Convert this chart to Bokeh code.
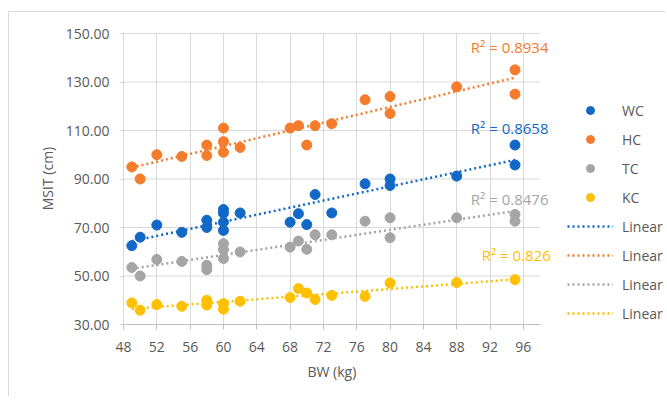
import numpy as np
from bokeh.plotting import figure
from bokeh.models import (Legend, LegendItem, Label, FixedTicker, NumeralTickFormatter,
                          Range1d, Title)
from bokeh.embed import file_html
from bokeh.resources import INLINE

# ---- data ----
wc_x = [49, 50, 52, 55, 58, 58, 60, 60, 60, 60, 62, 68, 69, 70, 71, 73, 77, 80, 80, 88, 95, 95]
wc_y = [62.5, 66, 71, 68, 73, 70, 77.4, 75.9, 72.2, 68.8, 76, 72.2, 75.7, 71.2, 83.6, 76, 88, 90, 87.3, 91.2, 104, 95.8]

hc_x = [49, 50, 52, 55, 58, 58, 60, 60, 60, 62, 68, 69, 70, 71, 73, 77, 80, 80, 88, 95, 95]
hc_y = [95, 90, 100, 99.3, 104, 99.7, 111, 105.4, 101, 103, 111, 112, 104, 112, 112.8, 122.7, 124, 117, 128, 135, 125]

tc_x = [49, 50, 52, 55, 58, 58, 60, 60, 60, 62, 68, 69, 70, 71, 73, 77, 80, 80, 88, 95, 95]
tc_y = [53.5, 50, 56.8, 56, 54.4, 52.6, 63.3, 60.9, 57.2, 59.9, 61.9, 64.4, 61, 67, 67, 72.6, 74, 65.8, 74, 75.4, 72.6]

kc_x = [49, 50, 52, 55, 58, 58, 60, 60, 62, 68, 69, 70, 71, 73, 77, 80, 88, 95]
kc_y = [38.9, 35.9, 38.2, 37.5, 40, 38, 38.6, 36.3, 39.6, 41.1, 44.8, 43, 40.3, 42, 41.6, 47.1, 47.3, 48.5]

series_names = ["WC", "HC", "TC", "KC"]
r2_texts = ["R\u00b2 = 0.8658", "R\u00b2 = 0.8934", "R\u00b2 = 0.8476", "R\u00b2 = 0.826"]
x_ticks = [48, 52, 56, 60, 64, 68, 72, 76, 80, 84, 88, 92, 96]
y_ticks = [30, 50, 70, 90, 110, 130, 150]
x_min, x_max = 48, 98
y_min, y_max = 30, 150

colors = ["#1268c6", "#f47c2c", "#a5a5a5", "#ffc000"]
FONT = "Open Sans"
TXT = "#595959"
GRID = "#d9d9d9"

# frame spans to the right edge of the canvas so legend / labels are not clipped;
# the x axis and horizontal grid lines are bounded to the data domain [48, 98]
W, H = 656, 384
left_b, top_b = 114, 20
frame_w, frame_h = W - left_b, 292
bottom_b = H - top_b - frame_h
px_per_kg = 8.33
px_per_cm = 2.425
x_end = x_min + frame_w / px_per_kg
y_end = y_max + 1 / px_per_cm

p = figure(width=W, height=H, frame_width=frame_w, frame_height=frame_h,
           min_border_left=left_b, min_border_right=0, min_border_top=top_b,
           min_border_bottom=bottom_b,
           output_backend="svg", toolbar_location=None,
           x_range=Range1d(x_min, x_end), y_range=Range1d(y_min, y_end))
p.styles = {"border-top": "1px solid #d9d9d9", "border-left": "1px solid #d9d9d9",
            "margin-top": "11px", "margin-left": "8px"}
p.outline_line_color = None
p.background_fill_color = "white"
p.border_fill_color = "white"

p.xaxis.ticker = FixedTicker(ticks=x_ticks)
p.yaxis.ticker = FixedTicker(ticks=y_ticks)
p.yaxis.formatter = NumeralTickFormatter(format="0.00")
p.xaxis.bounds = (x_min, x_max)
p.xgrid.grid_line_color = GRID
p.ygrid.grid_line_color = None

# horizontal grid lines limited to the x domain
p.segment(x0=[x_min] * len(y_ticks), x1=[x_max] * len(y_ticks), y0=y_ticks, y1=y_ticks,
          line_color=GRID, line_width=1)

for ax in (p.xaxis[0], p.yaxis[0]):
    ax.major_label_text_font = FONT
    ax.major_label_text_font_size = "14px"
    ax.major_label_text_color = TXT
    ax.axis_label_text_font = FONT
    ax.axis_label_text_font_size = "14px"
    ax.axis_label_text_color = TXT
    ax.axis_label_text_font_style = "normal"
    ax.minor_tick_line_color = None
    ax.major_tick_in = 0

p.xaxis.axis_line_color = "#bfbfbf"
p.xaxis.major_tick_line_color = "#bfbfbf"
p.xaxis.major_tick_out = 5
p.xaxis.major_label_standoff = 12

p.yaxis.axis_label = "MSIT (cm)"
p.yaxis.axis_line_color = GRID
p.yaxis.major_tick_line_color = GRID
p.yaxis.major_tick_out = 4
p.yaxis.major_label_standoff = 10
p.yaxis.axis_label_standoff = 6

# x-axis title, centred on the data domain of the axis
p.add_layout(Title(text="BW (kg)", align="left", offset=184, standoff=11,
                   text_font=FONT, text_font_size="14px", text_color=TXT,
                   text_font_style="normal"), "below")

data = [(wc_x, wc_y), (hc_x, hc_y), (tc_x, tc_y), (kc_x, kc_y)]
scat_r = []
for (xs, ys), c in zip(data, colors):
    r = p.scatter(xs, ys, size=10, color=c, line_color=c)
    scat_r.append(r)
line_r = []
for (xs, ys), c in zip(data, colors):
    xa = np.array(xs, dtype=float)
    ya = np.array(ys, dtype=float)
    m, b = np.polyfit(xa, ya, 1)
    lx = [xa.min(), xa.max()]
    ly = [m * xa.min() + b, m * xa.max() + b]
    lr = p.line(lx, ly, line_color=c, line_width=2.5, line_dash="2 3")
    line_r.append(lr)

items = [LegendItem(label=n, renderers=[r]) for n, r in zip(series_names, scat_r)]
items += [LegendItem(label="Linear", renderers=[r]) for r in line_r]
legend = Legend(items=items, location=(444, 1), orientation="vertical",
                glyph_width=46, glyph_height=20, label_height=20, spacing=9,
                label_standoff=9, padding=0, margin=0,
                border_line_color=None, background_fill_alpha=0,
                label_text_font=FONT, label_text_font_size="14px", label_text_color=TXT)
p.add_layout(legend, "center")

# R² annotations: (x, y) placement in data space
r2_pos = [(89.7, 111.2), (89.7, 144.5), (89.7, 81.6), (91.0, 58.5)]
for t, (lx, ly), c in zip(r2_texts, r2_pos, colors):
    p.add_layout(Label(x=lx, y=ly, text=t, text_color=c, text_font=FONT,
                       text_font_size="15px", text_baseline="middle", text_align="left"))

open("out.html", "w").write(file_html(p, INLINE))
